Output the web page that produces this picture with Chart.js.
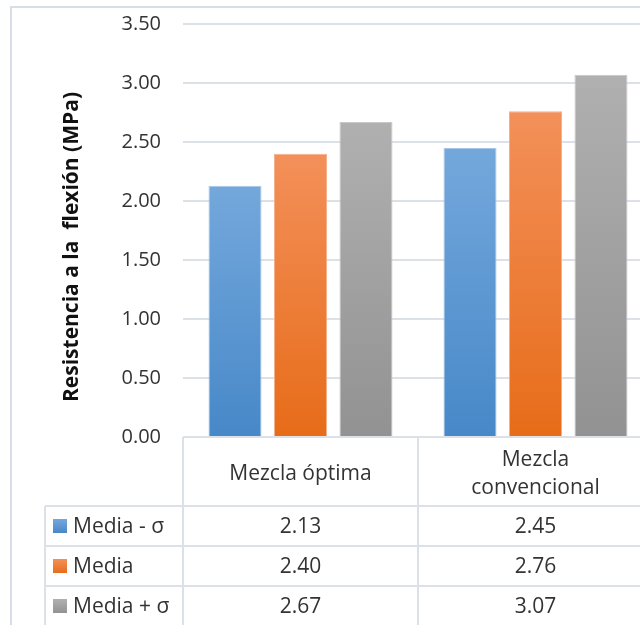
<!DOCTYPE html>
<html>
<head>
<meta charset="utf-8">
<script src="https://cdn.jsdelivr.net/npm/chart.js@4/dist/chart.umd.min.js"></script>
<style>
  html, body { margin: 0; padding: 0; background: #ffffff; overflow: hidden; }
  #wrap { position: relative; width: 640px; height: 625px; overflow: hidden; }
  canvas { display: block; }
</style>
</head>
<body>
<div id="wrap"><canvas id="chart" width="680" height="625"></canvas></div>
<script>
// Categories (header cells of the data table, one array of lines per cell)
const categories = [['Mezcla óptima'], ['Mezcla', 'convencional']];
// Series names shown in the first column of the data table
const seriesNames = ['Media - σ', 'Media', 'Media + σ'];
// Flexural strength values (MPa)
const mediaMenosSigma = [2.13, 2.45];
const media = [2.40, 2.76];
const mediaMasSigma = [2.67, 3.07];
// Value axis
const yMin = 0;
const yMax = 3.5;
const yStep = 0.5;
const yTitle = 'Resistencia a la  flexión (MPa)';

const seriesValues = [mediaMenosSigma, media, mediaMasSigma];
// Gradient stops per series: [top, bottom]
const seriesColors = [
  ['#74a8dc', '#4788c8'],
  ['#f3905a', '#e76c19'],
  ['#b0b0b0', '#929292']
];
const borderColors = ['#a8c6e6', '#f5b08a', '#c8c8c8'];

const FONT = '"Open Sans", "Noto Sans", sans-serif';
const TEXT = '#333333';
const LINE = '#dce1e8';

function barFill(i) {
  return (ctx) => {
    const chart = ctx.chart;
    const [top, bottom] = seriesColors[i];
    if (ctx.type !== 'data' || !chart.chartArea || !chart.scales.y) return bottom;
    const ys = chart.scales.y;
    const y0 = ys.getPixelForValue(ctx.parsed ? ctx.parsed.y : ctx.raw);
    const y1 = ys.getPixelForValue(0);
    if (!isFinite(y0) || !isFinite(y1) || y0 === y1) return bottom;
    const g = chart.ctx.createLinearGradient(0, y0, 0, y1);
    g.addColorStop(0, top);
    g.addColorStop(1, bottom);
    return g;
  };
}

// Table geometry below the plot
const HEADER_TOP = 437;
const HEADER_BOTTOM = 506;
const ROW_H = 40;
const LEGEND_LEFT = 45;

const frameAndTable = {
  id: 'frameAndTable',
  beforeDraw(chart) {
    const c = chart.ctx;
    c.save();
    c.strokeStyle = '#d9dee6';
    c.lineWidth = 2;
    c.beginPath();
    c.moveTo(11, 700); c.lineTo(11, 7); c.lineTo(800, 7);
    c.stroke();
    c.restore();
  },
  afterDraw(chart) {
    const c = chart.ctx;
    const xs = chart.scales.x;
    const area = chart.chartArea;
    const catW = xs.width / categories.length;
    const W = chart.width;
    const H = chart.height + 40;
    c.save();
    c.strokeStyle = LINE;
    c.lineWidth = 2;
    c.beginPath();
    // horizontal rules
    c.moveTo(area.left, HEADER_TOP); c.lineTo(W, HEADER_TOP);
    for (let r = 0; r < seriesNames.length; r++) {
      const y = HEADER_BOTTOM + r * ROW_H;
      c.moveTo(LEGEND_LEFT, y); c.lineTo(W, y);
    }
    // vertical rules
    c.moveTo(LEGEND_LEFT, HEADER_BOTTOM); c.lineTo(LEGEND_LEFT, H);
    for (let k = 0; k <= categories.length; k++) {
      const x = xs.getPixelForValue(0) - catW / 2 + k * catW;
      c.moveTo(x, HEADER_TOP); c.lineTo(x, H);
    }
    c.stroke();

    // header cells
    c.fillStyle = TEXT;
    c.font = '21px ' + FONT;
    c.textAlign = 'center';
    c.textBaseline = 'alphabetic';
    categories.forEach((lines, k) => {
      const cx = xs.getPixelForValue(k);
      const lh = 28;
      const mid = (HEADER_TOP + HEADER_BOTTOM) / 2;
      const first = mid + 8 - (lines.length - 1) * lh / 2;
      lines.forEach((t, j) => c.fillText(t, cx, first + j * lh));
    });

    // series rows
    seriesNames.forEach((name, r) => {
      const rowMid = HEADER_BOTTOM + r * ROW_H + ROW_H / 2;
      const [top, bottom] = seriesColors[r];
      const g = c.createLinearGradient(0, rowMid - 7, 0, rowMid + 7);
      g.addColorStop(0, top); g.addColorStop(1, bottom);
      c.fillStyle = g;
      c.fillRect(53, rowMid - 7, 14, 14);
      c.fillStyle = TEXT;
      c.textAlign = 'left';
      c.textBaseline = 'middle';
      c.fillText(name, 73, rowMid + 1);
      c.textAlign = 'center';
      seriesValues[r].forEach((v, k) => {
        c.fillText(v.toFixed(2), xs.getPixelForValue(k), rowMid + 1);
      });
    });

    // value axis title
    c.save();
    c.translate(72, 247);
    c.rotate(-Math.PI / 2);
    c.font = 'bold 21px ' + FONT;
    c.fillStyle = '#111111';
    c.textAlign = 'center';
    c.textBaseline = 'middle';
    c.fillText(yTitle, 0, 0);
    c.restore();
    c.restore();
  }
};

new Chart(document.getElementById('chart'), {
  type: 'bar',
  data: {
    labels: categories.map(l => l.join(' ')),
    datasets: seriesNames.map((name, i) => ({
      label: name,
      data: seriesValues[i],
      backgroundColor: barFill(i),
      borderColor: borderColors[i],
      borderWidth: 1,
      borderSkipped: 'bottom',
      categoryPercentage: 0.836,
      barPercentage: 0.81
    }))
  },
  options: {
    responsive: false,
    animation: false,
    devicePixelRatio: 1,
    layout: { padding: { left: 0, right: 27, top: 24, bottom: 188 } },
    plugins: { legend: { display: false }, tooltip: { enabled: false } },
    scales: {
      x: { display: false },
      y: {
        min: yMin,
        max: yMax,
        afterFit(scale) { scale.width = 183; },
        border: { display: false },
        grid: { color: LINE, lineWidth: 2, drawTicks: true, tickLength: 22, tickColor: 'rgba(0,0,0,0)' },
        ticks: {
          stepSize: yStep,
          padding: 0,
          color: TEXT,
          font: { family: FONT, size: 20 },
          callback: (v) => Number(v).toFixed(2)
        }
      }
    }
  },
  plugins: [frameAndTable]
});
</script>
</body>
</html>
